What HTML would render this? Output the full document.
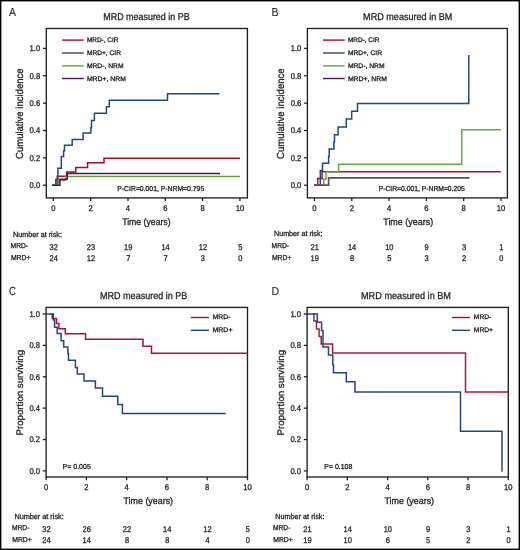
<!DOCTYPE html>
<html><head><meta charset="utf-8"><style>
html,body{margin:0;padding:0;background:#fff;overflow:hidden;width:520px;height:550px;}
svg{display:block;will-change:transform;}
text{font-family:"Liberation Sans",sans-serif;text-rendering:geometricPrecision;fill:#231f20;stroke:#231f20;stroke-width:0.3px;}
</style></head><body>
<svg width="520" height="550" viewBox="0 0 520 550">
<rect x="0.7" y="0.7" width="518.6" height="548.6" fill="#fff" stroke="#000" stroke-width="1.4"/>
<text x="9.1" y="16.1" font-size="11.6" textLength="6.9" lengthAdjust="spacingAndGlyphs" style="stroke-width:0.1px">A</text>
<text x="271.6" y="15.9" font-size="11.6" textLength="7.0" lengthAdjust="spacingAndGlyphs" style="stroke-width:0.1px">B</text>
<text x="8.9" y="295.0" font-size="11.8" textLength="7.0" lengthAdjust="spacingAndGlyphs" style="stroke-width:0.1px">C</text>
<text x="271.6" y="295.1" font-size="11.4" textLength="7.6" lengthAdjust="spacingAndGlyphs" style="stroke-width:0.1px">D</text>
<text x="103.3" y="20" font-size="9.9" textLength="86.3" lengthAdjust="spacingAndGlyphs">MRD measured in PB</text>
<text x="363.1" y="20" font-size="9.9" textLength="89.3" lengthAdjust="spacingAndGlyphs">MRD measured in BM</text>
<text x="100" y="299" font-size="9.9" textLength="87.4" lengthAdjust="spacingAndGlyphs">MRD measured in PB</text>
<text x="361.0" y="298.8" font-size="9.9" textLength="90.0" lengthAdjust="spacingAndGlyphs">MRD measured in BM</text>
<rect x="46.3" y="28.5" width="201.1" height="169.4" fill="none" stroke="#231f20" stroke-width="1.35"/>
<line x1="43.0" y1="185.2" x2="46.3" y2="185.2" stroke="#231f20" stroke-width="1.3"/>
<text x="40.2" y="188.1" font-size="8.3" text-anchor="end" textLength="10.62" lengthAdjust="spacingAndGlyphs">0.0</text>
<line x1="43.0" y1="157.84" x2="46.3" y2="157.84" stroke="#231f20" stroke-width="1.3"/>
<text x="40.2" y="160.74" font-size="8.3" text-anchor="end" textLength="10.62" lengthAdjust="spacingAndGlyphs">0.2</text>
<line x1="43.0" y1="130.48" x2="46.3" y2="130.48" stroke="#231f20" stroke-width="1.3"/>
<text x="40.2" y="133.38" font-size="8.3" text-anchor="end" textLength="10.62" lengthAdjust="spacingAndGlyphs">0.4</text>
<line x1="43.0" y1="103.12" x2="46.3" y2="103.12" stroke="#231f20" stroke-width="1.3"/>
<text x="40.2" y="106.02" font-size="8.3" text-anchor="end" textLength="10.62" lengthAdjust="spacingAndGlyphs">0.6</text>
<line x1="43.0" y1="75.76" x2="46.3" y2="75.76" stroke="#231f20" stroke-width="1.3"/>
<text x="40.2" y="78.66" font-size="8.3" text-anchor="end" textLength="10.62" lengthAdjust="spacingAndGlyphs">0.8</text>
<line x1="43.0" y1="48.4" x2="46.3" y2="48.4" stroke="#231f20" stroke-width="1.3"/>
<text x="40.2" y="51.3" font-size="8.3" text-anchor="end" textLength="10.62" lengthAdjust="spacingAndGlyphs">1.0</text>
<line x1="53.35" y1="197.9" x2="53.35" y2="201.1" stroke="#231f20" stroke-width="1.3"/>
<text x="53.35" y="211.4" font-size="8.3" text-anchor="middle" textLength="4.25" lengthAdjust="spacingAndGlyphs">0</text>
<line x1="90.66" y1="197.9" x2="90.66" y2="201.1" stroke="#231f20" stroke-width="1.3"/>
<text x="90.66" y="211.4" font-size="8.3" text-anchor="middle" textLength="4.25" lengthAdjust="spacingAndGlyphs">2</text>
<line x1="127.97" y1="197.9" x2="127.97" y2="201.1" stroke="#231f20" stroke-width="1.3"/>
<text x="127.97" y="211.4" font-size="8.3" text-anchor="middle" textLength="4.25" lengthAdjust="spacingAndGlyphs">4</text>
<line x1="165.28" y1="197.9" x2="165.28" y2="201.1" stroke="#231f20" stroke-width="1.3"/>
<text x="165.28" y="211.4" font-size="8.3" text-anchor="middle" textLength="4.25" lengthAdjust="spacingAndGlyphs">6</text>
<line x1="202.59" y1="197.9" x2="202.59" y2="201.1" stroke="#231f20" stroke-width="1.3"/>
<text x="202.59" y="211.4" font-size="8.3" text-anchor="middle" textLength="4.25" lengthAdjust="spacingAndGlyphs">8</text>
<line x1="239.9" y1="197.9" x2="239.9" y2="201.1" stroke="#231f20" stroke-width="1.3"/>
<text x="239.9" y="211.4" font-size="8.3" text-anchor="middle" textLength="8.49" lengthAdjust="spacingAndGlyphs">10</text>
<text x="0" y="0" font-size="10.2" text-anchor="middle" textLength="90.5" lengthAdjust="spacingAndGlyphs" transform="translate(22.7,113.7) rotate(-90)">Cumulative incidence</text>
<rect x="307.4" y="28.5" width="200.0" height="169.4" fill="none" stroke="#231f20" stroke-width="1.35"/>
<line x1="304.1" y1="185.2" x2="307.4" y2="185.2" stroke="#231f20" stroke-width="1.3"/>
<text x="301.3" y="188.1" font-size="8.3" text-anchor="end" textLength="10.62" lengthAdjust="spacingAndGlyphs">0.0</text>
<line x1="304.1" y1="157.84" x2="307.4" y2="157.84" stroke="#231f20" stroke-width="1.3"/>
<text x="301.3" y="160.74" font-size="8.3" text-anchor="end" textLength="10.62" lengthAdjust="spacingAndGlyphs">0.2</text>
<line x1="304.1" y1="130.48" x2="307.4" y2="130.48" stroke="#231f20" stroke-width="1.3"/>
<text x="301.3" y="133.38" font-size="8.3" text-anchor="end" textLength="10.62" lengthAdjust="spacingAndGlyphs">0.4</text>
<line x1="304.1" y1="103.12" x2="307.4" y2="103.12" stroke="#231f20" stroke-width="1.3"/>
<text x="301.3" y="106.02" font-size="8.3" text-anchor="end" textLength="10.62" lengthAdjust="spacingAndGlyphs">0.6</text>
<line x1="304.1" y1="75.76" x2="307.4" y2="75.76" stroke="#231f20" stroke-width="1.3"/>
<text x="301.3" y="78.66" font-size="8.3" text-anchor="end" textLength="10.62" lengthAdjust="spacingAndGlyphs">0.8</text>
<line x1="304.1" y1="48.4" x2="307.4" y2="48.4" stroke="#231f20" stroke-width="1.3"/>
<text x="301.3" y="51.3" font-size="8.3" text-anchor="end" textLength="10.62" lengthAdjust="spacingAndGlyphs">1.0</text>
<line x1="314.45" y1="197.9" x2="314.45" y2="201.1" stroke="#231f20" stroke-width="1.3"/>
<text x="314.45" y="211.4" font-size="8.3" text-anchor="middle" textLength="4.25" lengthAdjust="spacingAndGlyphs">0</text>
<line x1="351.76" y1="197.9" x2="351.76" y2="201.1" stroke="#231f20" stroke-width="1.3"/>
<text x="351.76" y="211.4" font-size="8.3" text-anchor="middle" textLength="4.25" lengthAdjust="spacingAndGlyphs">2</text>
<line x1="389.07" y1="197.9" x2="389.07" y2="201.1" stroke="#231f20" stroke-width="1.3"/>
<text x="389.07" y="211.4" font-size="8.3" text-anchor="middle" textLength="4.25" lengthAdjust="spacingAndGlyphs">4</text>
<line x1="426.38" y1="197.9" x2="426.38" y2="201.1" stroke="#231f20" stroke-width="1.3"/>
<text x="426.38" y="211.4" font-size="8.3" text-anchor="middle" textLength="4.25" lengthAdjust="spacingAndGlyphs">6</text>
<line x1="463.69" y1="197.9" x2="463.69" y2="201.1" stroke="#231f20" stroke-width="1.3"/>
<text x="463.69" y="211.4" font-size="8.3" text-anchor="middle" textLength="4.25" lengthAdjust="spacingAndGlyphs">8</text>
<line x1="501.0" y1="197.9" x2="501.0" y2="201.1" stroke="#231f20" stroke-width="1.3"/>
<text x="501.0" y="211.4" font-size="8.3" text-anchor="middle" textLength="8.49" lengthAdjust="spacingAndGlyphs">10</text>
<text x="0" y="0" font-size="10.2" text-anchor="middle" textLength="90.5" lengthAdjust="spacingAndGlyphs" transform="translate(283.8,113.7) rotate(-90)">Cumulative incidence</text>
<rect x="46.1" y="307.4" width="201.4" height="169.6" fill="none" stroke="#231f20" stroke-width="1.35"/>
<line x1="42.8" y1="470.9" x2="46.1" y2="470.9" stroke="#231f20" stroke-width="1.3"/>
<text x="40.0" y="473.8" font-size="8.3" text-anchor="end" textLength="10.62" lengthAdjust="spacingAndGlyphs">0.0</text>
<line x1="42.8" y1="439.52" x2="46.1" y2="439.52" stroke="#231f20" stroke-width="1.3"/>
<text x="40.0" y="442.42" font-size="8.3" text-anchor="end" textLength="10.62" lengthAdjust="spacingAndGlyphs">0.2</text>
<line x1="42.8" y1="408.14" x2="46.1" y2="408.14" stroke="#231f20" stroke-width="1.3"/>
<text x="40.0" y="411.04" font-size="8.3" text-anchor="end" textLength="10.62" lengthAdjust="spacingAndGlyphs">0.4</text>
<line x1="42.8" y1="376.76" x2="46.1" y2="376.76" stroke="#231f20" stroke-width="1.3"/>
<text x="40.0" y="379.66" font-size="8.3" text-anchor="end" textLength="10.62" lengthAdjust="spacingAndGlyphs">0.6</text>
<line x1="42.8" y1="345.38" x2="46.1" y2="345.38" stroke="#231f20" stroke-width="1.3"/>
<text x="40.0" y="348.28" font-size="8.3" text-anchor="end" textLength="10.62" lengthAdjust="spacingAndGlyphs">0.8</text>
<line x1="42.8" y1="314.0" x2="46.1" y2="314.0" stroke="#231f20" stroke-width="1.3"/>
<text x="40.0" y="316.9" font-size="8.3" text-anchor="end" textLength="10.62" lengthAdjust="spacingAndGlyphs">1.0</text>
<line x1="46.1" y1="477" x2="46.1" y2="480.2" stroke="#231f20" stroke-width="1.3"/>
<text x="46.1" y="490.2" font-size="8.3" text-anchor="middle" textLength="4.25" lengthAdjust="spacingAndGlyphs">0</text>
<line x1="86.38" y1="477" x2="86.38" y2="480.2" stroke="#231f20" stroke-width="1.3"/>
<text x="86.38" y="490.2" font-size="8.3" text-anchor="middle" textLength="4.25" lengthAdjust="spacingAndGlyphs">2</text>
<line x1="126.66" y1="477" x2="126.66" y2="480.2" stroke="#231f20" stroke-width="1.3"/>
<text x="126.66" y="490.2" font-size="8.3" text-anchor="middle" textLength="4.25" lengthAdjust="spacingAndGlyphs">4</text>
<line x1="166.94" y1="477" x2="166.94" y2="480.2" stroke="#231f20" stroke-width="1.3"/>
<text x="166.94" y="490.2" font-size="8.3" text-anchor="middle" textLength="4.25" lengthAdjust="spacingAndGlyphs">6</text>
<line x1="207.22" y1="477" x2="207.22" y2="480.2" stroke="#231f20" stroke-width="1.3"/>
<text x="207.22" y="490.2" font-size="8.3" text-anchor="middle" textLength="4.25" lengthAdjust="spacingAndGlyphs">8</text>
<line x1="247.5" y1="477" x2="247.5" y2="480.2" stroke="#231f20" stroke-width="1.3"/>
<text x="247.5" y="490.2" font-size="8.3" text-anchor="middle" textLength="8.49" lengthAdjust="spacingAndGlyphs">10</text>
<text x="0" y="0" font-size="9.6" text-anchor="middle" textLength="85.5" lengthAdjust="spacingAndGlyphs" transform="translate(22.7,392.7) rotate(-90)">Proportion surviving</text>
<rect x="307.1" y="307.4" width="201.2" height="169.6" fill="none" stroke="#231f20" stroke-width="1.35"/>
<line x1="303.8" y1="470.9" x2="307.1" y2="470.9" stroke="#231f20" stroke-width="1.3"/>
<text x="301.0" y="473.8" font-size="8.3" text-anchor="end" textLength="10.62" lengthAdjust="spacingAndGlyphs">0.0</text>
<line x1="303.8" y1="439.52" x2="307.1" y2="439.52" stroke="#231f20" stroke-width="1.3"/>
<text x="301.0" y="442.42" font-size="8.3" text-anchor="end" textLength="10.62" lengthAdjust="spacingAndGlyphs">0.2</text>
<line x1="303.8" y1="408.14" x2="307.1" y2="408.14" stroke="#231f20" stroke-width="1.3"/>
<text x="301.0" y="411.04" font-size="8.3" text-anchor="end" textLength="10.62" lengthAdjust="spacingAndGlyphs">0.4</text>
<line x1="303.8" y1="376.76" x2="307.1" y2="376.76" stroke="#231f20" stroke-width="1.3"/>
<text x="301.0" y="379.66" font-size="8.3" text-anchor="end" textLength="10.62" lengthAdjust="spacingAndGlyphs">0.6</text>
<line x1="303.8" y1="345.38" x2="307.1" y2="345.38" stroke="#231f20" stroke-width="1.3"/>
<text x="301.0" y="348.28" font-size="8.3" text-anchor="end" textLength="10.62" lengthAdjust="spacingAndGlyphs">0.8</text>
<line x1="303.8" y1="314.0" x2="307.1" y2="314.0" stroke="#231f20" stroke-width="1.3"/>
<text x="301.0" y="316.9" font-size="8.3" text-anchor="end" textLength="10.62" lengthAdjust="spacingAndGlyphs">1.0</text>
<line x1="307.1" y1="477" x2="307.1" y2="480.2" stroke="#231f20" stroke-width="1.3"/>
<text x="307.1" y="490.2" font-size="8.3" text-anchor="middle" textLength="4.25" lengthAdjust="spacingAndGlyphs">0</text>
<line x1="347.34" y1="477" x2="347.34" y2="480.2" stroke="#231f20" stroke-width="1.3"/>
<text x="347.34" y="490.2" font-size="8.3" text-anchor="middle" textLength="4.25" lengthAdjust="spacingAndGlyphs">2</text>
<line x1="387.58" y1="477" x2="387.58" y2="480.2" stroke="#231f20" stroke-width="1.3"/>
<text x="387.58" y="490.2" font-size="8.3" text-anchor="middle" textLength="4.25" lengthAdjust="spacingAndGlyphs">4</text>
<line x1="427.82" y1="477" x2="427.82" y2="480.2" stroke="#231f20" stroke-width="1.3"/>
<text x="427.82" y="490.2" font-size="8.3" text-anchor="middle" textLength="4.25" lengthAdjust="spacingAndGlyphs">6</text>
<line x1="468.06" y1="477" x2="468.06" y2="480.2" stroke="#231f20" stroke-width="1.3"/>
<text x="468.06" y="490.2" font-size="8.3" text-anchor="middle" textLength="4.25" lengthAdjust="spacingAndGlyphs">8</text>
<line x1="508.3" y1="477" x2="508.3" y2="480.2" stroke="#231f20" stroke-width="1.3"/>
<text x="508.3" y="490.2" font-size="8.3" text-anchor="middle" textLength="8.49" lengthAdjust="spacingAndGlyphs">10</text>
<text x="0" y="0" font-size="9.6" text-anchor="middle" textLength="85.5" lengthAdjust="spacingAndGlyphs" transform="translate(283.8,392.7) rotate(-90)">Proportion surviving</text>
<line x1="62" y1="40.1" x2="83.7" y2="40.1" stroke="#a50a2d" stroke-width="1.4"/>
<text x="86.9" y="42.3" font-size="6.7" textLength="31.5" lengthAdjust="spacingAndGlyphs">MRD-, CIR</text>
<line x1="62" y1="53.0" x2="83.7" y2="53.0" stroke="#26457e" stroke-width="1.4"/>
<text x="86.9" y="55.2" font-size="6.7" textLength="34.1" lengthAdjust="spacingAndGlyphs">MRD+, CIR</text>
<line x1="62" y1="65.9" x2="83.7" y2="65.9" stroke="#5ea23a" stroke-width="1.4"/>
<text x="86.9" y="68.1" font-size="6.7" textLength="36.7" lengthAdjust="spacingAndGlyphs">MRD-, NRM</text>
<line x1="62" y1="78.5" x2="83.7" y2="78.5" stroke="#4a1652" stroke-width="1.4"/>
<text x="86.9" y="80.7" font-size="6.7" textLength="39.1" lengthAdjust="spacingAndGlyphs">MRD+, NRM</text>
<line x1="323" y1="40.1" x2="344.7" y2="40.1" stroke="#a50a2d" stroke-width="1.4"/>
<text x="347.9" y="42.3" font-size="6.7" textLength="31.5" lengthAdjust="spacingAndGlyphs">MRD-, CIR</text>
<line x1="323" y1="53.0" x2="344.7" y2="53.0" stroke="#26457e" stroke-width="1.4"/>
<text x="347.9" y="55.2" font-size="6.7" textLength="34.1" lengthAdjust="spacingAndGlyphs">MRD+, CIR</text>
<line x1="323" y1="65.9" x2="344.7" y2="65.9" stroke="#5ea23a" stroke-width="1.4"/>
<text x="347.9" y="68.1" font-size="6.7" textLength="36.7" lengthAdjust="spacingAndGlyphs">MRD-, NRM</text>
<line x1="323" y1="78.5" x2="344.7" y2="78.5" stroke="#4a1652" stroke-width="1.4"/>
<text x="347.9" y="80.7" font-size="6.7" textLength="39.1" lengthAdjust="spacingAndGlyphs">MRD+, NRM</text>
<line x1="190.8" y1="317.5" x2="208.8" y2="317.5" stroke="#a50a2d" stroke-width="1.4"/>
<line x1="190.8" y1="330.3" x2="208.8" y2="330.3" stroke="#26457e" stroke-width="1.4"/>
<text x="212.5" y="319.2" font-size="6.7" textLength="18.0" lengthAdjust="spacingAndGlyphs">MRD-</text>
<text x="212.5" y="332.0" font-size="6.7" textLength="20.0" lengthAdjust="spacingAndGlyphs">MRD+</text>
<line x1="452" y1="317.5" x2="470" y2="317.5" stroke="#a50a2d" stroke-width="1.4"/>
<line x1="452" y1="330.3" x2="470" y2="330.3" stroke="#26457e" stroke-width="1.4"/>
<text x="473.8" y="319.2" font-size="6.7" textLength="17.5" lengthAdjust="spacingAndGlyphs">MRD-</text>
<text x="473.8" y="332.0" font-size="6.7" textLength="19.2" lengthAdjust="spacingAndGlyphs">MRD+</text>
<text x="117.3" y="190.9" font-size="7.2" textLength="86.9" lengthAdjust="spacingAndGlyphs">P-CIR=0.001, P-NRM=0.795</text>
<text x="378.7" y="191" font-size="7.2" textLength="86.1" lengthAdjust="spacingAndGlyphs">P-CIR=0.001, P-NRM=0.205</text>
<text x="62.6" y="469.2" font-size="7.2" textLength="28.2" lengthAdjust="spacingAndGlyphs">P= 0.005</text>
<text x="324.3" y="469" font-size="7.2" textLength="28" lengthAdjust="spacingAndGlyphs">P= 0.108</text>
<text x="146.4" y="224.9" font-size="9.5" text-anchor="middle" textLength="48.4" lengthAdjust="spacingAndGlyphs">Time (years)</text>
<text x="408.2" y="224.9" font-size="9.5" text-anchor="middle" textLength="49.9" lengthAdjust="spacingAndGlyphs">Time (years)</text>
<text x="148.3" y="504" font-size="9.5" text-anchor="middle" textLength="49.6" lengthAdjust="spacingAndGlyphs">Time (years)</text>
<text x="409.3" y="504" font-size="9.5" text-anchor="middle" textLength="49.6" lengthAdjust="spacingAndGlyphs">Time (years)</text>
<text x="13.1" y="236.5" font-size="7.6" textLength="48.8" lengthAdjust="spacingAndGlyphs">Number at risk:</text>
<text x="10.6" y="248.0" font-size="7.2" textLength="17.5" lengthAdjust="spacingAndGlyphs">MRD-</text>
<text x="10.9" y="259.6" font-size="7.2" textLength="19.6" lengthAdjust="spacingAndGlyphs">MRD+</text>
<text x="53.65" y="249.7" font-size="8.3" text-anchor="middle" textLength="8.31" lengthAdjust="spacingAndGlyphs">32</text>
<text x="53.65" y="260.8" font-size="8.3" text-anchor="middle" textLength="8.31" lengthAdjust="spacingAndGlyphs">24</text>
<text x="90.96" y="249.7" font-size="8.3" text-anchor="middle" textLength="8.31" lengthAdjust="spacingAndGlyphs">23</text>
<text x="90.96" y="260.8" font-size="8.3" text-anchor="middle" textLength="8.31" lengthAdjust="spacingAndGlyphs">12</text>
<text x="128.27" y="249.7" font-size="8.3" text-anchor="middle" textLength="8.31" lengthAdjust="spacingAndGlyphs">19</text>
<text x="128.27" y="260.8" font-size="8.3" text-anchor="middle" textLength="4.15" lengthAdjust="spacingAndGlyphs">7</text>
<text x="165.58" y="249.7" font-size="8.3" text-anchor="middle" textLength="8.31" lengthAdjust="spacingAndGlyphs">14</text>
<text x="165.58" y="260.8" font-size="8.3" text-anchor="middle" textLength="4.15" lengthAdjust="spacingAndGlyphs">7</text>
<text x="202.89" y="249.7" font-size="8.3" text-anchor="middle" textLength="8.31" lengthAdjust="spacingAndGlyphs">12</text>
<text x="202.89" y="260.8" font-size="8.3" text-anchor="middle" textLength="4.15" lengthAdjust="spacingAndGlyphs">3</text>
<text x="240.2" y="249.7" font-size="8.3" text-anchor="middle" textLength="4.15" lengthAdjust="spacingAndGlyphs">5</text>
<text x="240.2" y="260.8" font-size="8.3" text-anchor="middle" textLength="4.15" lengthAdjust="spacingAndGlyphs">0</text>
<text x="274" y="236.2" font-size="7.6" textLength="48.5" lengthAdjust="spacingAndGlyphs">Number at risk:</text>
<text x="271.6" y="247.8" font-size="7.2" textLength="17.5" lengthAdjust="spacingAndGlyphs">MRD-</text>
<text x="271.9" y="259.5" font-size="7.2" textLength="19.6" lengthAdjust="spacingAndGlyphs">MRD+</text>
<text x="314.75" y="249.5" font-size="8.3" text-anchor="middle" textLength="8.31" lengthAdjust="spacingAndGlyphs">21</text>
<text x="314.75" y="260.7" font-size="8.3" text-anchor="middle" textLength="8.31" lengthAdjust="spacingAndGlyphs">19</text>
<text x="352.06" y="249.5" font-size="8.3" text-anchor="middle" textLength="8.31" lengthAdjust="spacingAndGlyphs">14</text>
<text x="352.06" y="260.7" font-size="8.3" text-anchor="middle" textLength="4.15" lengthAdjust="spacingAndGlyphs">8</text>
<text x="389.37" y="249.5" font-size="8.3" text-anchor="middle" textLength="8.31" lengthAdjust="spacingAndGlyphs">10</text>
<text x="389.37" y="260.7" font-size="8.3" text-anchor="middle" textLength="4.15" lengthAdjust="spacingAndGlyphs">5</text>
<text x="426.68" y="249.5" font-size="8.3" text-anchor="middle" textLength="4.15" lengthAdjust="spacingAndGlyphs">9</text>
<text x="426.68" y="260.7" font-size="8.3" text-anchor="middle" textLength="4.15" lengthAdjust="spacingAndGlyphs">3</text>
<text x="463.99" y="249.5" font-size="8.3" text-anchor="middle" textLength="4.15" lengthAdjust="spacingAndGlyphs">3</text>
<text x="463.99" y="260.7" font-size="8.3" text-anchor="middle" textLength="4.15" lengthAdjust="spacingAndGlyphs">2</text>
<text x="501.3" y="249.5" font-size="8.3" text-anchor="middle" textLength="4.15" lengthAdjust="spacingAndGlyphs">1</text>
<text x="501.3" y="260.7" font-size="8.3" text-anchor="middle" textLength="4.15" lengthAdjust="spacingAndGlyphs">0</text>
<text x="14.4" y="518.5" font-size="7.6" textLength="49.3" lengthAdjust="spacingAndGlyphs">Number at risk:</text>
<text x="11.9" y="530.0" font-size="7.2" textLength="17.5" lengthAdjust="spacingAndGlyphs">MRD-</text>
<text x="12.2" y="541.6" font-size="7.2" textLength="19.6" lengthAdjust="spacingAndGlyphs">MRD+</text>
<text x="46.4" y="531.7" font-size="8.3" text-anchor="middle" textLength="8.31" lengthAdjust="spacingAndGlyphs">32</text>
<text x="46.4" y="542.8" font-size="8.3" text-anchor="middle" textLength="8.31" lengthAdjust="spacingAndGlyphs">24</text>
<text x="86.68" y="531.7" font-size="8.3" text-anchor="middle" textLength="8.31" lengthAdjust="spacingAndGlyphs">26</text>
<text x="86.68" y="542.8" font-size="8.3" text-anchor="middle" textLength="8.31" lengthAdjust="spacingAndGlyphs">14</text>
<text x="126.96" y="531.7" font-size="8.3" text-anchor="middle" textLength="8.31" lengthAdjust="spacingAndGlyphs">22</text>
<text x="126.96" y="542.8" font-size="8.3" text-anchor="middle" textLength="4.15" lengthAdjust="spacingAndGlyphs">8</text>
<text x="167.24" y="531.7" font-size="8.3" text-anchor="middle" textLength="8.31" lengthAdjust="spacingAndGlyphs">14</text>
<text x="167.24" y="542.8" font-size="8.3" text-anchor="middle" textLength="4.15" lengthAdjust="spacingAndGlyphs">8</text>
<text x="207.52" y="531.7" font-size="8.3" text-anchor="middle" textLength="8.31" lengthAdjust="spacingAndGlyphs">12</text>
<text x="207.52" y="542.8" font-size="8.3" text-anchor="middle" textLength="4.15" lengthAdjust="spacingAndGlyphs">4</text>
<text x="247.8" y="531.7" font-size="8.3" text-anchor="middle" textLength="4.15" lengthAdjust="spacingAndGlyphs">5</text>
<text x="247.8" y="542.8" font-size="8.3" text-anchor="middle" textLength="4.15" lengthAdjust="spacingAndGlyphs">0</text>
<text x="275.2" y="518.5" font-size="7.6" textLength="49.3" lengthAdjust="spacingAndGlyphs">Number at risk:</text>
<text x="272.9" y="530.0" font-size="7.2" textLength="17.5" lengthAdjust="spacingAndGlyphs">MRD-</text>
<text x="273.2" y="541.6" font-size="7.2" textLength="19.6" lengthAdjust="spacingAndGlyphs">MRD+</text>
<text x="307.4" y="531.7" font-size="8.3" text-anchor="middle" textLength="8.31" lengthAdjust="spacingAndGlyphs">21</text>
<text x="307.4" y="542.8" font-size="8.3" text-anchor="middle" textLength="8.31" lengthAdjust="spacingAndGlyphs">19</text>
<text x="347.64" y="531.7" font-size="8.3" text-anchor="middle" textLength="8.31" lengthAdjust="spacingAndGlyphs">14</text>
<text x="347.64" y="542.8" font-size="8.3" text-anchor="middle" textLength="8.31" lengthAdjust="spacingAndGlyphs">10</text>
<text x="387.88" y="531.7" font-size="8.3" text-anchor="middle" textLength="8.31" lengthAdjust="spacingAndGlyphs">10</text>
<text x="387.88" y="542.8" font-size="8.3" text-anchor="middle" textLength="4.15" lengthAdjust="spacingAndGlyphs">6</text>
<text x="428.12" y="531.7" font-size="8.3" text-anchor="middle" textLength="4.15" lengthAdjust="spacingAndGlyphs">9</text>
<text x="428.12" y="542.8" font-size="8.3" text-anchor="middle" textLength="4.15" lengthAdjust="spacingAndGlyphs">5</text>
<text x="468.36" y="531.7" font-size="8.3" text-anchor="middle" textLength="4.15" lengthAdjust="spacingAndGlyphs">3</text>
<text x="468.36" y="542.8" font-size="8.3" text-anchor="middle" textLength="4.15" lengthAdjust="spacingAndGlyphs">2</text>
<text x="508.6" y="531.7" font-size="8.3" text-anchor="middle" textLength="4.15" lengthAdjust="spacingAndGlyphs">1</text>
<text x="508.6" y="542.8" font-size="8.3" text-anchor="middle" textLength="4.15" lengthAdjust="spacingAndGlyphs">0</text>
<path d="M52.3,185.2 H57.2 V176.3 H66.6 V172.1 H75.8 V167.5 H87.6 V162.7 H104 V158.3 H240" fill="none" stroke="#a50a2d" stroke-width="1.5" stroke-linejoin="miter" stroke-linecap="butt"/>
<path d="M52.3,185.2 H55.8 V179.4 H57.9 V168.3 H61.3 V156.4 H63.6 V150.7 H64.5 V145.3 H72.2 V139.5 H83.1 V133.1 H90.9 V127.5 H91.5 V120.6 H94.4 V113.3 H106.4 V106.7 H109.3 V100.3 H167.5 V93.8 H219.5" fill="none" stroke="#26457e" stroke-width="1.5" stroke-linejoin="miter" stroke-linecap="butt"/>
<path d="M52.3,185.2 H58.4 V180.6 H65.6 V176.5 H240" fill="none" stroke="#5ea23a" stroke-width="1.5" stroke-linejoin="miter" stroke-linecap="butt"/>
<path d="M52.3,185.2 H59.9 V179.2 H67.3 V173.4 H220" fill="none" stroke="#4a1652" stroke-width="1.5" stroke-linejoin="miter" stroke-linecap="butt"/>
<path d="M314.1,185.2 H317.7 V178.4 H322.1 V171.8 H500.8" fill="none" stroke="#a80e31" stroke-width="1.5" stroke-linejoin="miter" stroke-linecap="butt"/>
<path d="M314.1,185.2 H320.3 V170.5 H322.5 V163.2 H328.6 V156.6 H329.2 V149.1 H333.9 V142.1 H334.5 V134.8 H338.1 V127 H346.3 V119 H351.7 V111.2 H357.5 V103.4 H468.8 V55" fill="none" stroke="#26457e" stroke-width="1.5" stroke-linejoin="miter" stroke-linecap="butt"/>
<path d="M314.1,185.2 H323.8 V178.9 H326.1 V172 H338.6 V164.2 H461.8 V129.8 H500.8" fill="none" stroke="#66a944" stroke-width="1.5" stroke-linejoin="miter" stroke-linecap="butt"/>
<path d="M314.1,185.2 H328.6 V177.9 H469.5" fill="none" stroke="#674274" stroke-width="1.7" stroke-linejoin="miter" stroke-linecap="butt"/>
<path d="M51.2,314.1 H52.2 V318.6 H56.5 V323.4 H58.9 V328.7 H65.3 V333.8 H85.5 V339.2 H143 V346.3 H151.5 V353.3 H247.5" fill="none" stroke="#ab1238" stroke-width="1.5" stroke-linejoin="miter" stroke-linecap="butt"/>
<path d="M45.5,314.1 H53.4 V320 H54.6 V327.2 H57.2 V333.5 H61.1 V340.7 H63.7 V346.9 H67.9 V353.4 H68.5 V360.2 H75.4 V367.4 H77.3 V374.1 H84 V380.9 H95.4 V388 H102.5 V396.3 H117.8 V404.5 H122.4 V413.4 H225.8" fill="none" stroke="#26457e" stroke-width="1.5" stroke-linejoin="miter" stroke-linecap="butt"/>
<path d="M312.9,314.1 H313.9 V321 H316.5 V329 H319.1 V336.4 H321.2 V344 H332.6 V353 H465.5 V392 H508.2" fill="none" stroke="#ad1a40" stroke-width="1.5" stroke-linejoin="miter" stroke-linecap="butt"/>
<path d="M306.5,314.1 H317.3 V322.2 H321.6 V330.4 H323 V347 H328.5 V355 H332.8 V364.4 H333.5 V372.7 H346.3 V381.7 H355 V392.1 H460.5 V431.3 H502 V471.8" fill="none" stroke="#26457e" stroke-width="1.5" stroke-linejoin="miter" stroke-linecap="butt"/>
</svg>
</body></html>
